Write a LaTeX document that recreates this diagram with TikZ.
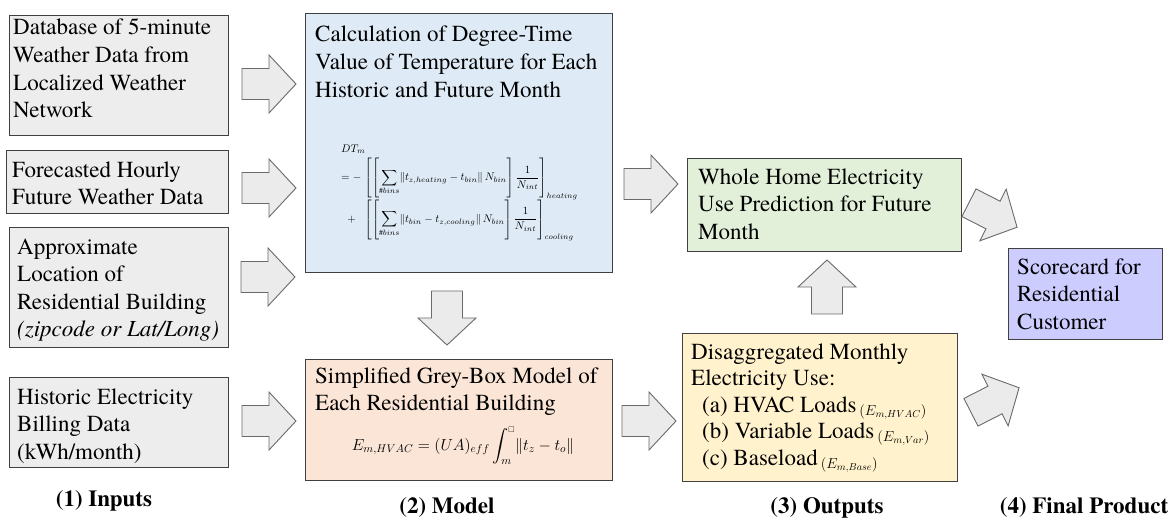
\RequirePackage{fix-cm}
\documentclass[tikz,border=0pt]{standalone}
\usepackage{amsmath,amssymb}
\usepackage{fontspec}
\IfFontExistsTF{texgyretermes-regular.otf}
  {\setmainfont{texgyretermes}[Extension=.otf,UprightFont=*-regular,BoldFont=*-bold,ItalicFont=*-italic,BoldItalicFont=*-bolditalic]}
  {\setmainfont{Liberation Serif}}
\usetikzlibrary{calc}
\definecolor{boxdraw}{HTML}{404040}
\definecolor{ingrey}{HTML}{EDEDED}
\definecolor{dtblue}{HTML}{DEEBF7}
\definecolor{gbpeach}{HTML}{FBE5D6}
\definecolor{whgreen}{HTML}{E2F0D9}
\definecolor{disyellow}{HTML}{FFF2CC}
\definecolor{scpurple}{HTML}{CCCCFF}
\definecolor{arrfill}{HTML}{EBEBEB}
\definecolor{arrdraw}{HTML}{6A6A6A}
\tikzset{
  box/.style={draw=boxdraw, line width=1.4pt, anchor=north west, inner sep=0pt},
  txt/.style={anchor=base west, inner sep=0pt, font=\fontsize{23}{27.5}\selectfont},
  lbl/.style={anchor=base, inner sep=0pt, font=\fontsize{23}{26}\selectfont\bfseries},
  pics/barrow/.style={code={
    \draw[draw=arrdraw, fill=arrfill, line width=0.9pt, line join=miter]
      (-27,-15.5) -- (0,-15.5) -- (0,-29) -- (27,0) -- (0,29) -- (0,15.5) -- (-27,15.5) -- cycle;}}
}
\newcommand{\sub}[1]{\hspace{3pt}\raisebox{-3pt}{\fontsize{14.5}{16}\selectfont$#1$}}
\newcommand{\bstrut}{\vrule height 16pt depth 16pt width 0pt}
\begin{document}
\begin{tikzpicture}[x=1pt,y=-1pt]
\useasboundingbox (0,0) rectangle (1172,519);
% ---------- input boxes
\node[box, fill=ingrey, minimum width=219pt, minimum height=120pt] (in1) at (9,15) {};
\node[txt] (in1t) at ($(in1.north west)+(4,20)$) {\parbox[t]{212pt}{Database of 5-minute\\Weather Data from\\Localized Weather\\Network}};
\node[box, fill=ingrey, minimum width=222pt, minimum height=63pt] (in2) at (6,150) {};
\node[txt] (in2t) at ($(in2.north west)+(6,27)$) {\parbox[t]{212pt}{Forecasted Hourly\\Future Weather Data}};
\node[box, fill=ingrey, minimum width=219pt, minimum height=120pt] (in3) at (9,227) {};
\node[txt] (in3t) at ($(in3.north west)+(8,27)$) {\parbox[t]{212pt}{Approximate\\Location of\\Residential Building\\\textit{(zipcode or Lat/Long)}}};
\node[box, fill=ingrey, minimum width=219pt, minimum height=90pt] (in4) at (9,377) {};
\node[txt] (in4t) at ($(in4.north west)+(8,27)$) {\parbox[t]{212pt}{Historic Electricity\\Billing Data\\(kWh/month)}};
% ---------- model boxes
\node[box, fill=dtblue, minimum width=307pt, minimum height=259pt] (dt) at (305,13) {};
\node[txt] (dtt) at ($(dt.north west)+(10,29)$) {\parbox[t]{295pt}{Calculation of Degree-Time\\Value of Temperature for Each\\Historic and Future Month}};
\node[anchor=north west, inner sep=0pt, font=\fontsize{11}{13}\selectfont] (dtf) at (341,143)
 {$\begin{array}{@{}l@{\;}l@{}}
 \multicolumn{2}{@{}l@{}}{DT_m}\\[2pt]
 = - & \displaystyle\left[\left[\bstrut\sum_{\#bins}\lVert t_{z,heating}-t_{bin}\rVert\, N_{bin}\right]\frac{1}{N_{int}}\right]_{heating}\\[1pt]
 \;\;+ & \displaystyle\left[\left[\bstrut\sum_{\#bins}\lVert t_{bin}-t_{z,cooling}\rVert\, N_{bin}\right]\frac{1}{N_{int}}\right]_{cooling}
 \end{array}$};
\node[box, fill=gbpeach, minimum width=307pt, minimum height=121pt] (gb) at (305,359) {};
\node[txt] (gbt) at ($(gb.north west)+(10,24)$) {\parbox[t]{295pt}{Simplified Grey-Box Model of\\Each Residential Building}};
\node[anchor=base, inner sep=0pt, font=\fontsize{16}{19}\selectfont] (gbf) at (463,450)
 {$E_{m,HVAC}=(UA)_{eff}\displaystyle\int_m^{\scriptscriptstyle\square}\lVert t_z-t_o\rVert$};
% ---------- output boxes
\node[box, fill=whgreen, minimum width=274pt, minimum height=93pt] (wh) at (687,158) {};
\node[txt] (wht) at ($(wh.north west)+(11,26)$) {\parbox[t]{260pt}{Whole Home Electricity\\Use Prediction for Future\\Month}};
\node[box, fill=disyellow, minimum width=275pt, minimum height=148pt] (dis) at (682,333) {};
\node[txt, font=\fontsize{23}{26.5}\selectfont] (dist) at ($(dis.north west)+(9,26)$) {\parbox[t]{262pt}{Disaggregated Monthly\\Electricity Use:\\\hspace*{11pt}(a) HVAC Loads\sub{(E_{m,HVAC})}\\\hspace*{11pt}(b) Variable Loads\sub{(E_{m,Var})}\\\hspace*{11pt}(c) Baseload\sub{(E_{m,Base})}}};
\node[box, fill=scpurple, minimum width=154pt, minimum height=91pt] (sc) at (1008,248) {};
\node[txt] (sct) at ($(sc.north west)+(9,26)$) {\parbox[t]{140pt}{Scorecard for\\Residential\\Customer}};
% ---------- block arrows
\pic at (269,84) {barrow};
\pic at (269,188) {barrow};
\pic at (268,277) {barrow};
\pic at (269,421) {barrow};
\pic[rotate=-90] at (447,318) {barrow};
\pic at (651,184) {barrow};
\pic at (649,421) {barrow};
\pic[rotate=90] at (827,287) {barrow};
\pic[rotate=-27] at (993,215) {barrow};
\pic[rotate=27] at (995,400) {barrow};
% ---------- column labels
\node[lbl] (l1) at (104,506) {(1) Inputs};
\node[lbl] (l2) at (447,513) {(2) Model};
\node[lbl] (l3) at (827,513) {(3) Outputs};
\node[lbl] (l4) at (1084,513) {(4) Final Product};
\end{tikzpicture}
\end{document}
